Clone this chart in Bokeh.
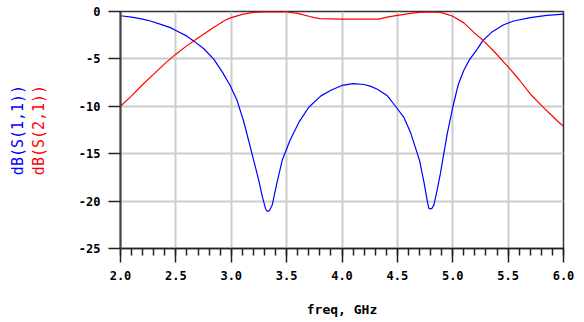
from bokeh.plotting import figure
from bokeh.models import Range1d, FixedTicker, Title
from bokeh.embed import file_html
from bokeh.resources import INLINE

# ---- data ----
s11_freq = [2.0, 2.1, 2.2, 2.27, 2.35, 2.45, 2.5, 2.6, 2.66, 2.75, 2.84, 2.92, 2.99,
            3.05, 3.11, 3.17, 3.22, 3.25, 3.28, 3.31, 3.325, 3.345, 3.37, 3.41, 3.46,
            3.53, 3.61, 3.70, 3.81, 3.90, 4.0, 4.1, 4.2, 4.26, 4.32, 4.41, 4.49, 4.56,
            4.62, 4.70, 4.74, 4.77, 4.785, 4.81, 4.83, 4.86, 4.89, 4.95, 5.0, 5.05,
            5.10, 5.15, 5.22, 5.27, 5.35, 5.46, 5.55, 5.70, 5.85, 6.0]
s11_db = [-0.45, -0.6, -0.8, -1.0, -1.3, -1.7, -2.0, -2.6, -3.1, -3.9, -5.0, -6.4, -7.8,
          -9.3, -11.5, -14.2, -16.5, -17.9, -19.5, -20.8, -21.1, -21.0, -20.4, -18.2, -15.7,
          -13.6, -11.7, -10.1, -8.9, -8.3, -7.8, -7.6, -7.7, -7.9, -8.2, -8.9, -10.1, -11.2,
          -12.8, -15.7, -18.0, -20.0, -20.8, -20.8, -20.4, -18.8, -17.0, -12.9, -10.1, -7.7,
          -6.2, -5.1, -4.0, -3.1, -2.2, -1.4, -1.0, -0.65, -0.4, -0.28]

s21_freq = [2.0, 2.1, 2.2, 2.3, 2.4, 2.5, 2.6, 2.66, 2.75, 2.85, 2.95, 3.0, 3.1, 3.2,
            3.3, 3.5, 3.6, 3.7, 3.75, 3.8, 4.0, 4.33, 4.42, 4.5, 4.62, 4.7, 4.8, 4.89,
            4.95, 5.0, 5.1, 5.19, 5.27, 5.38, 5.49, 5.6, 5.70, 5.8, 5.94, 6.0]
s21_db = [-10.0, -8.9, -7.7, -6.6, -5.5, -4.5, -3.6, -3.1, -2.4, -1.6, -0.9, -0.65, -0.3, -0.1,
          -0.05, -0.05, -0.2, -0.5, -0.65, -0.75, -0.8, -0.8, -0.56, -0.4, -0.2, -0.1, -0.05, -0.1,
          -0.3, -0.5, -1.2, -2.2, -3.0, -4.3, -5.7, -7.2, -8.7, -9.9, -11.5, -12.1]

x_ticks = [2.0, 2.5, 3.0, 3.5, 4.0, 4.5, 5.0, 5.5, 6.0]
x_tick_labels = ["2.0", "2.5", "3.0", "3.5", "4.0", "4.5", "5.0", "5.5", "6.0"]
x_minor_ticks = [2.0 + 0.1 * i for i in range(41)]
y_ticks = [-25, -20, -15, -10, -5, 0]
y_tick_labels = ["-25", "-20", "-15", "-10", "-5", "0"]

x_title = "freq, GHz"
s11_name = "dB(S(1,1))"
s21_name = "dB(S(2,1))"

FONT = "DejaVu Sans Mono"

p = figure(frame_width=443, frame_height=237,
           x_range=Range1d(2, 6), y_range=Range1d(-25, 0),
           output_backend="svg", toolbar_location=None,
           min_border_left=120, min_border_right=21,
           min_border_top=11, min_border_bottom=74)
p.title.visible = False
p.background_fill_color = "white"
p.border_fill_color = "white"
p.outline_line_color = "#333333"
p.outline_line_width = 1.5

# grids
p.xgrid.ticker = FixedTicker(ticks=x_ticks)
p.ygrid.ticker = FixedTicker(ticks=y_ticks)
for g in (p.xgrid, p.ygrid):
    g.grid_line_color = "#cccccc"
    g.grid_line_width = 2

# x axis
xa = p.xaxis[0]
xa.ticker = FixedTicker(ticks=x_ticks, minor_ticks=x_minor_ticks)
xa.major_label_overrides = {t: l for t, l in zip(x_ticks, x_tick_labels)}
xa.major_tick_in = 0
xa.major_tick_out = 14
xa.minor_tick_in = 0
xa.minor_tick_out = 7
xa.axis_line_color = "#222222"
xa.axis_line_width = 1.5
xa.major_tick_line_color = "#222222"
xa.major_tick_line_width = 1.5
xa.minor_tick_line_color = "#222222"
xa.minor_tick_line_width = 1.5
xa.major_label_standoff = 8
xa.major_label_text_font = FONT
xa.major_label_text_font_style = "bold"
xa.major_label_text_font_size = "12px"
xa.major_label_text_color = "black"
xa.axis_label = x_title
xa.axis_label_text_font = FONT
xa.axis_label_text_font_style = "bold"
xa.axis_label_text_font_size = "13px"
xa.axis_label_text_color = "black"
xa.axis_label_standoff = 19

# y axis (its label is the red series name)
ya = p.yaxis[0]
ya.ticker = FixedTicker(ticks=y_ticks)
ya.major_label_overrides = {t: l for t, l in zip(y_ticks, y_tick_labels)}
ya.major_tick_in = 0
ya.major_tick_out = 12
ya.minor_tick_line_color = None
ya.axis_line_color = "#444444"
ya.axis_line_width = 2
ya.major_tick_line_color = "#222222"
ya.major_tick_line_width = 1.5
ya.major_label_standoff = 8
ya.major_label_text_font = FONT
ya.major_label_text_font_style = "bold"
ya.major_label_text_font_size = "12px"
ya.major_label_text_color = "black"
ya.axis_label = s21_name
ya.axis_label_text_color = "#ff0000"
ya.axis_label_text_font = FONT
ya.axis_label_text_font_size = "15px"
ya.axis_label_text_font_style = "normal"
ya.axis_label_standoff = 28

# curves
p.line(s11_freq, s11_db, line_color="#0000ff", line_width=1.2)
p.line(s21_freq, s21_db, line_color="#ff0000", line_width=1.2)

# blue series name, outermost on the left
p.add_layout(Title(text=s11_name, align="center", text_color="#0000ff",
                   text_font=FONT, text_font_size="15px", text_font_style="normal",
                   standoff=0), "left")

open("out.html", "w").write(file_html(p, INLINE))
